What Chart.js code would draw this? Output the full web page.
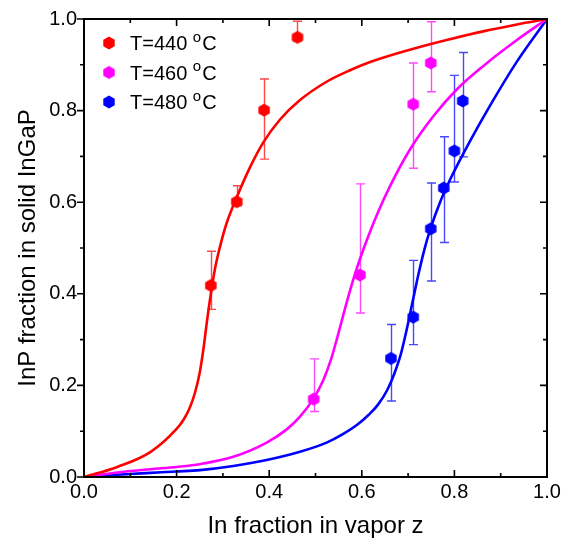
<!DOCTYPE html>
<html><head><meta charset="utf-8">
<style>html,body{margin:0;padding:0;background:#fff;}#wrap{width:573px;height:545px;}</style>
<script src="https://cdn.jsdelivr.net/npm/chart.js@4.4.0/dist/chart.umd.min.js"></script>
</head><body><div id="wrap"><canvas id="c" width="573" height="545"></canvas></div>
<script>
// ---------- data ----------
const temps = ['440', '460', '480'];
const colors = ['#ff0000', '#ff00ff', '#0000ff'];
const barColors = ['rgba(255,40,40,0.85)', 'rgba(255,40,255,0.85)', 'rgba(40,40,255,0.85)'];

const red_x  = [0.274, 0.330, 0.389, 0.461];
const red_y  = [0.418, 0.601, 0.801, 0.960];
const red_lo = [0.366, 0.592, 0.694, 0.952];
const red_hi = [0.493, 0.636, 0.869, 0.995];

const mag_x  = [0.496, 0.596, 0.711, 0.749];
const mag_y  = [0.170, 0.441, 0.814, 0.904];
const mag_lo = [0.143, 0.358, 0.674, 0.841];
const mag_hi = [0.258, 0.640, 0.904, 0.994];

const blue_x  = [0.663, 0.711, 0.749, 0.777, 0.800, 0.818];
const blue_y  = [0.259, 0.349, 0.542, 0.631, 0.712, 0.821];
const blue_lo = [0.166, 0.289, 0.428, 0.512, 0.644, 0.699];
const blue_hi = [0.333, 0.473, 0.642, 0.743, 0.877, 0.927];

const redFit_x = [0, 0.072, 0.144, 0.200, 0.215, 0.228, 0.240, 0.250, 0.258, 0.266, 0.274, 0.283, 0.294, 0.308, 0.330, 0.3585, 0.387, 0.423, 0.4665, 0.524, 0.5745, 0.618, 0.690, 0.747, 0.790, 0.862, 0.935, 1.0];
const redFit_y = [0, 0.022, 0.055, 0.105, 0.125, 0.150, 0.185, 0.228, 0.280, 0.343, 0.400, 0.455, 0.504, 0.554, 0.611, 0.676, 0.730, 0.780, 0.823, 0.863, 0.888, 0.906, 0.929, 0.945, 0.956, 0.973, 0.988, 1.0];

const magFit_x = [0, 0.072, 0.144, 0.200, 0.250, 0.3225, 0.3946, 0.4378, 0.4665, 0.495, 0.517, 0.533, 0.548, 0.563, 0.578, 0.594, 0.613, 0.635, 0.661, 0.704, 0.754, 0.805, 0.862, 0.935, 1.0];
const magFit_y = [0, 0.010, 0.017, 0.022, 0.028, 0.044, 0.075, 0.104, 0.132, 0.170, 0.212, 0.255, 0.308, 0.365, 0.419, 0.470, 0.523, 0.578, 0.635, 0.715, 0.787, 0.846, 0.897, 0.954, 1.0];

const blueFit_x = [0, 0.072, 0.144, 0.200, 0.2505, 0.3225, 0.3946, 0.4665, 0.524, 0.560, 0.590, 0.615, 0.635, 0.655, 0.670, 0.684, 0.697, 0.710, 0.722, 0.735, 0.748, 0.769, 0.790, 0.834, 0.877, 0.935, 1.0];
const blueFit_y = [0, 0.005, 0.009, 0.012, 0.015, 0.024, 0.037, 0.055, 0.075, 0.094, 0.114, 0.136, 0.158, 0.190, 0.225, 0.267, 0.322, 0.384, 0.441, 0.496, 0.541, 0.600, 0.648, 0.734, 0.811, 0.907, 1.0];

const xTicks = [0, 0.2, 0.4, 0.6, 0.8, 1.0];
const yTicks = [0, 0.2, 0.4, 0.6, 0.8, 1.0];
const minorTicks = [0, 0.1, 0.2, 0.3, 0.4, 0.5, 0.6, 0.7, 0.8, 0.9, 1.0];

// ---------- helpers ----------
const FONT = "'Liberation Sans', Arial, sans-serif";
function hexImg(color, r) {
  const s = Math.ceil(2 * r + 2);
  const c = document.createElement('canvas');
  c.width = s; c.height = s;
  const g = c.getContext('2d');
  g.fillStyle = color;
  g.beginPath();
  for (let i = 0; i < 6; i++) {
    const a = Math.PI / 2 + i * Math.PI / 3;
    const px = s / 2 + r * Math.cos(a), py = s / 2 + r * Math.sin(a);
    if (i) g.lineTo(px, py); else g.moveTo(px, py);
  }
  g.closePath(); g.fill();
  return c;
}
const zip = (xs, ys) => xs.map((x, i) => ({x, y: ys[i]}));
const hexes = colors.map(c => hexImg(c, 6.6));

const pts = [[red_x, red_y, red_lo, red_hi], [mag_x, mag_y, mag_lo, mag_hi], [blue_x, blue_y, blue_lo, blue_hi]];
const fits = [[redFit_x, redFit_y], [magFit_x, magFit_y], [blueFit_x, blueFit_y]];

const datasets = [];
pts.forEach((p, i) => datasets.push({
  label: 'T=' + temps[i] + ' \u00baC', data: zip(p[0], p[1]), pointStyle: hexes[i],
  pointRadius: 7, showLine: false, errLo: p[2], errHi: p[3], barColor: barColors[i]
}));
fits.forEach((f, i) => datasets.push({
  label: 'fit ' + temps[i], data: zip(f[0], f[1]), showLine: true, pointRadius: 0,
  borderColor: colors[i], borderWidth: 2.6, cubicInterpolationMode: 'monotone', fill: false
}));

const errorBars = {
  id: 'errorBars',
  beforeDatasetsDraw(chart) {
    const ctx = chart.ctx, xs = chart.scales.x, ys = chart.scales.y;
    ctx.save();
    chart.data.datasets.forEach(ds => {
      if (!ds.errLo) return;
      ctx.strokeStyle = ds.barColor; ctx.lineWidth = 1.4;
      ds.data.forEach((d, j) => {
        const px = Math.round(xs.getPixelForValue(d.x)) + 0.5;
        const lo = ys.getPixelForValue(ds.errLo[j]), hi = ys.getPixelForValue(ds.errHi[j]);
        ctx.beginPath();
        ctx.moveTo(px, lo); ctx.lineTo(px, hi);
        ctx.moveTo(px - 4.5, hi); ctx.lineTo(px + 4.5, hi);
        ctx.moveTo(px - 4.5, lo); ctx.lineTo(px + 4.5, lo);
        ctx.stroke();
      });
    });
    ctx.restore();
  }
};

const frame = {
  id: 'frame',
  afterDraw(chart) {
    const ctx = chart.ctx, xs = chart.scales.x, ys = chart.scales.y, a = chart.chartArea;
    ctx.save();
    ctx.strokeStyle = '#000'; ctx.lineWidth = 2;
    ctx.strokeRect(a.left, a.top, a.right - a.left, a.bottom - a.top);
    ctx.lineWidth = 1.6;
    ctx.beginPath();
    minorTicks.forEach((v, k) => {
      const len = (k % 2 === 0) ? 7 : 4;
      const px = xs.getPixelForValue(v), py = ys.getPixelForValue(v);
      ctx.moveTo(px, a.bottom); ctx.lineTo(px, a.bottom - len);
      ctx.moveTo(px, a.top); ctx.lineTo(px, a.top + len);
      ctx.moveTo(a.left, py); ctx.lineTo(a.left - len, py);
      ctx.moveTo(a.right, py); ctx.lineTo(a.right - len, py);
    });
    ctx.stroke();
    // legend
    chart.data.datasets.slice(0, 3).forEach((ds, i) => {
      const cy = 43 + i * 29.5;
      const img = hexes[i];
      ctx.drawImage(img, 109 - img.width / 2, cy - img.height / 2);
      ctx.fillStyle = '#000';
      ctx.textBaseline = 'alphabetic';
      ctx.font = '20px ' + FONT;
      const base = cy + 7;
      const t1 = 'T=' + temps[i] + ' ';
      ctx.fillText(t1, 130, base);
      let x = 130 + ctx.measureText(t1).width;
      ctx.font = '15px ' + FONT;
      ctx.fillText('o', x, base - 8.5);
      x += ctx.measureText('o').width + 1;
      ctx.font = '20px ' + FONT;
      ctx.fillText('C', x, base);
    });
    ctx.restore();
  }
};

new Chart(document.getElementById('c'), {
  type: 'scatter',
  data: {datasets},
  plugins: [errorBars, frame],
  options: {
    responsive: false, animation: false, devicePixelRatio: 1,
    layout: {padding: {top: 13, right: 26, left: 0, bottom: 0}},
    plugins: {legend: {display: false}, tooltip: {enabled: false}},
    scales: {
      x: {
        type: 'linear', min: 0, max: 1,
        afterFit(s) { s.height = 68; },
        afterBuildTicks(s) { s.ticks = xTicks.map(v => ({value: v})); },
        grid: {display: false, drawTicks: false}, border: {display: false},
        ticks: {padding: 3, color: '#000', font: {family: FONT, size: 20}, callback: v => v.toFixed(1), maxRotation: 0},
        title: {display: true, text: 'In fraction in vapor z', color: '#000', font: {family: FONT, size: 24}, padding: {top: 0, bottom: 4}}
      },
      y: {
        type: 'linear', min: 0, max: 1,
        afterFit(s) { s.width = 84; },
        afterBuildTicks(s) { s.ticks = yTicks.map(v => ({value: v})); },
        grid: {display: false, drawTicks: false}, border: {display: false},
        ticks: {padding: 7, color: '#000', font: {family: FONT, size: 20}, callback: v => v.toFixed(1)},
        title: {display: true, text: 'InP fraction in solid InGaP', color: '#000', font: {family: FONT, size: 24}, padding: {top: 14, bottom: 0}}
      }
    }
  }
});
</script></body></html>
